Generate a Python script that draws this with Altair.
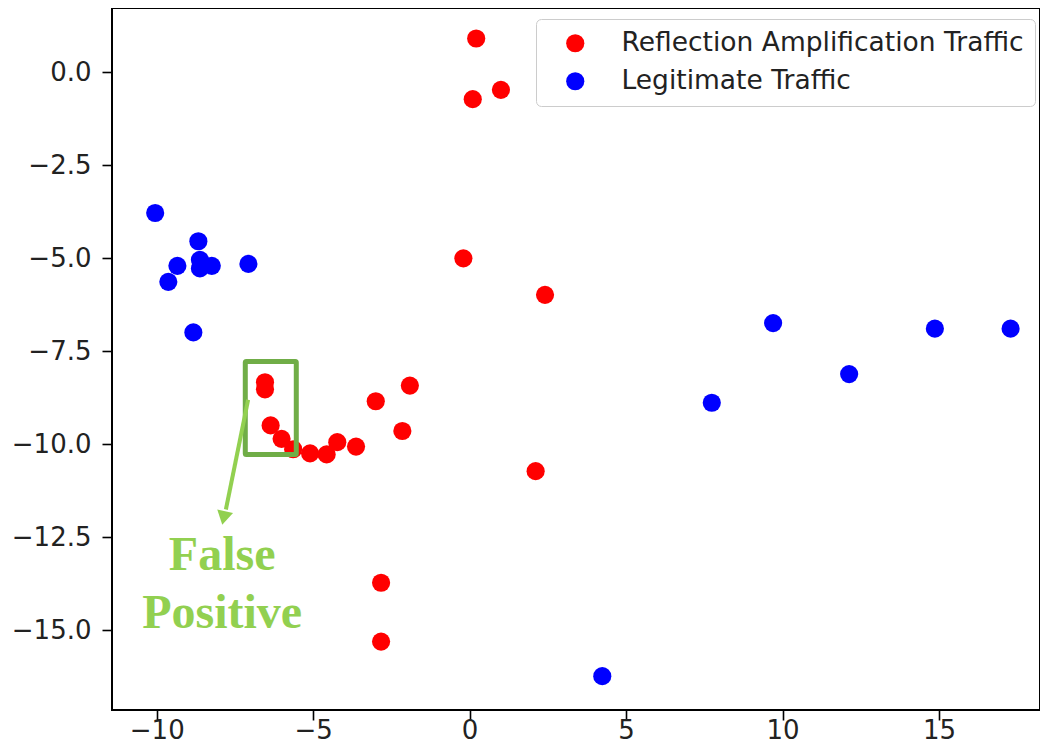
import altair as alt
import pandas as pd

# ---- data ----
red_x = [0.21, 0.10, 1.00, -0.20, 2.41, 2.11, -2.83, -2.83, -1.91, -3.00, -2.15,
         -6.54, -6.54, -6.36, -6.01, -5.64, -5.10, -4.57, -4.23, -3.63]
red_y = [0.91, -0.72, -0.47, -5.00, -5.98, -10.72, -13.72, -15.30, -8.42, -8.84, -9.64,
         -8.33, -8.52, -9.49, -9.85, -10.13, -10.24, -10.27, -9.94, -10.06]
blue_x = [-10.05, -8.67, -9.34, -9.63, -8.62, -8.62, -8.24, -7.07, -8.83,
          9.70, 7.74, 12.13, 14.87, 17.29, 4.24]
blue_y = [-3.78, -4.54, -5.20, -5.63, -5.04, -5.27, -5.20, -5.15, -6.99,
          -6.74, -8.88, -8.11, -6.89, -6.89, -16.23]

series_names = ["Reflection Amplification Traffic", "Legitimate Traffic"]
series_colors = ["#ff0000", "#0000ff"]

x_ticks = [-10, -5, 0, 5, 10, 15]
y_ticks = [0.0, -2.5, -5.0, -7.5, -10.0, -12.5, -15.0]
x_domain = [-11.43, 18.23]
y_domain = [-17.14, 1.73]

# annotation (data coordinates)
box_x = [-7.17]
box_x2 = [-5.54]
box_y = [-7.77]
box_y2 = [-10.27]
arrow_x = [-7.08]
arrow_y = [-8.80]
arrow_x2 = [-7.79]
arrow_y2 = [-11.75]
head_x = [-7.86]
head_y = [-11.98]
label_text = ["False", "Positive"]
label_x = [-7.91, -7.91]
label_y = [-13.39, -14.94]

# ---- tables ----
pts = pd.DataFrame({
    "x": red_x + blue_x,
    "y": red_y + blue_y,
    "series": [series_names[0]] * len(red_x) + [series_names[1]] * len(blue_x),
})
pts["order"] = range(len(pts))

box_df = pd.DataFrame({"x": box_x, "x2": box_x2, "y": box_y, "y2": box_y2})
arrow_df = pd.DataFrame({"x": arrow_x, "y": arrow_y, "x2": arrow_x2, "y2": arrow_y2})
head_df = pd.DataFrame({"x": head_x, "y": head_y})
label_df = pd.DataFrame({"x": label_x, "y": label_y, "t": label_text})

xs = alt.Scale(domain=x_domain, nice=False, zero=False)
ys = alt.Scale(domain=y_domain, nice=False, zero=False)

x_axis = alt.Axis(values=x_ticks, format="d", title=None, grid=False)
y_axis = alt.Axis(values=y_ticks, format=".1f", title=None, grid=False)

scatter = alt.Chart(pts).mark_circle(size=330, opacity=1).encode(
    x=alt.X("x:Q", scale=xs, axis=x_axis),
    y=alt.Y("y:Q", scale=ys, axis=y_axis),
    color=alt.Color(
        "series:N",
        scale=alt.Scale(domain=series_names, range=series_colors),
        legend=alt.Legend(
            title=None,
            orient="none",
            legendX=424,
            legendY=11,
            padding=11,
            symbolType="circle",
            symbolSize=330,
            symbolOffset=15,
            labelOffset=33,
            labelFontSize=26.5,
            labelFont="DejaVu Sans",
            labelColor="#222222",
            rowPadding=11,
            strokeColor="#cccccc",
            fillColor="rgba(255,255,255,0.8)",
            cornerRadius=5,
            labelLimit=600,
        ),
    ),
    order=alt.Order("order:Q"),
)

box = alt.Chart(box_df).mark_rect(
    fillOpacity=0, stroke="#70AD47", strokeWidth=5, cornerRadius=1
).encode(x=alt.X("x:Q", scale=xs), x2="x2:Q", y=alt.Y("y:Q", scale=ys), y2="y2:Q")

arrow = alt.Chart(arrow_df).mark_rule(color="#92D050", strokeWidth=4).encode(
    x=alt.X("x:Q", scale=xs), x2="x2:Q", y=alt.Y("y:Q", scale=ys), y2="y2:Q"
)

head = alt.Chart(head_df).mark_point(
    shape="triangle-down", size=260, filled=True, color="#92D050", opacity=1, angle=12
).encode(x=alt.X("x:Q", scale=xs), y=alt.Y("y:Q", scale=ys))

labels = alt.Chart(label_df).mark_text(
    font="Liberation Serif", fontWeight="bold", fontSize=48, color="#92D050",
    align="center", baseline="alphabetic"
).encode(x=alt.X("x:Q", scale=xs), y=alt.Y("y:Q", scale=ys), text="t:N")

chart = alt.layer(scatter, box, arrow, head, labels).properties(
    width=928,
    height=702,
    autosize=alt.AutoSizeParams(type="none"),
    padding={"left": 104, "top": 0, "right": 0, "bottom": 35},
).configure_view(
    stroke="black", strokeWidth=2
).configure_axis(
    domain=False,
    labelFont="DejaVu Sans",
    labelFontSize=26,
    labelColor="#222222",
    tickColor="black",
    tickSize=10,
    tickWidth=1.6,
).configure_axisY(
    labelPadding=11
).configure_axisX(
    labelPadding=-3
)

chart.save("out.html", embed_options={"renderer": "svg", "actions": False})
